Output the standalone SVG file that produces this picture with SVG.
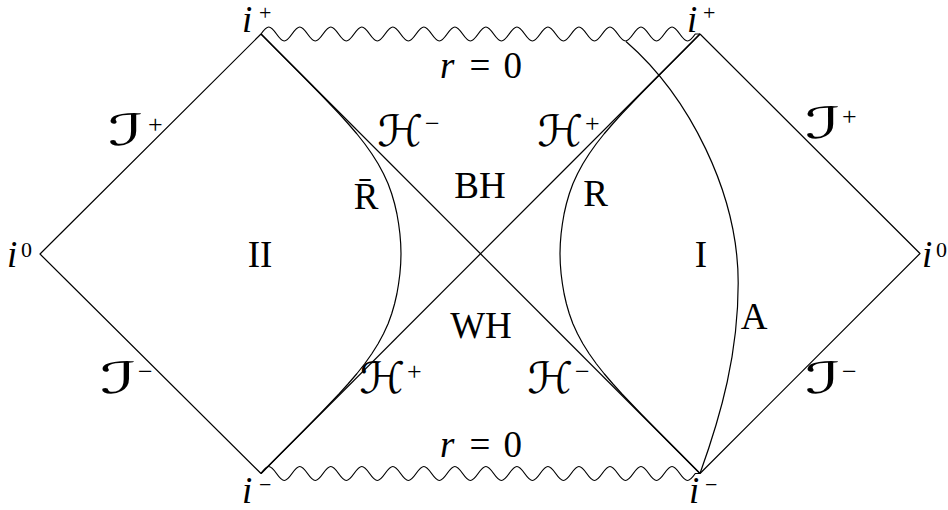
<svg xmlns="http://www.w3.org/2000/svg" width="948" height="510" viewBox="0 0 948 510">
<style>
.ln{fill:none;stroke:#000;stroke-width:1.2;stroke-linejoin:round}
.t{font-family:"Liberation Serif","Times New Roman",serif;font-size:37px;fill:#000}
.it{font-style:italic}
.sup{font-family:"Liberation Serif","Times New Roman",serif;font-size:22px;font-style:normal;fill:#000}
.sup2{font-family:"Liberation Serif","Times New Roman",serif;font-size:26px;fill:#000}
.scr{font-family:"DejaVu Serif","DejaVu Sans",serif;font-size:43px;font-style:italic;fill:#000}
</style>
<defs>
<path id="wave" d="M261,34 c6.58,-9.33 8.93,-9.33 15.51,0 s8.93,9.33 15.51,0 s8.93,-9.33 15.51,0 s8.93,9.33 15.51,0 s8.93,-9.33 15.51,0 s8.93,9.33 15.51,0 s8.93,-9.33 15.51,0 s8.93,9.33 15.51,0 s8.93,-9.33 15.51,0 s8.93,9.33 15.51,0 s8.93,-9.33 15.51,0 s8.93,9.33 15.51,0 s8.93,-9.33 15.51,0 s8.93,9.33 15.51,0 s8.93,-9.33 15.51,0 s8.93,9.33 15.51,0 s8.93,-9.33 15.51,0 s8.93,9.33 15.51,0 s8.93,-9.33 15.51,0 s8.93,9.33 15.51,0 s8.93,-9.33 15.51,0 s8.93,9.33 15.51,0 s8.93,-9.33 15.51,0 s8.93,9.33 15.51,0 s8.93,-9.33 15.51,0 s8.93,9.33 15.51,0 s8.93,-9.33 15.51,0 s8.93,9.33 15.51,0 L700,34"/>
</defs>
<g id="connectors">
<g id="boundaries">
<path class="ln" d="M261,34 L40,254 L261,473.5"/>
<path class="ln" d="M700,34 L920,253.5 L700,473.5"/>
</g>
<g id="singularities">
<use href="#wave" class="ln"/>
<use href="#wave" class="ln" transform="translate(0,439.5)"/>
</g>
<g id="horizons">
<path class="ln" d="M261,34 L700,473.5"/>
<path class="ln" d="M261,473.5 L700,34"/>
</g>
<g id="curve-R">
<polyline class="ln" points="700,34 680.5,53.75 660.6,73.75 640.9,93.75 621.8,113.75 612.8,123.75 604.2,133.75 596.3,143.75 589.2,153.75 582.9,163.75 577.5,173.75 572.9,183.75 569.3,193.75 566.4,203.75 564.1,213.75 562.4,223.75 561.1,233.75 560.3,243.75 560,253.75 560.3,263.75 561.1,273.75 562.4,283.75 564.1,293.75 566.4,303.75 569.3,313.75 572.9,323.75 577.5,333.75 582.9,343.75 589.2,353.75 596.3,363.75 604.2,373.75 612.8,383.75 621.8,393.75 640.9,413.75 660.6,433.75 680.5,453.75 700,473.5"/>
</g>
<g id="curve-Rbar">
<polyline class="ln" points="261,34 280.5,53.75 300.4,73.75 320.1,93.75 339.2,113.75 348.2,123.75 356.8,133.75 364.7,143.75 371.8,153.75 378.1,163.75 383.5,173.75 388.1,183.75 391.7,193.75 394.6,203.75 396.9,213.75 398.6,223.75 399.9,233.75 400.7,243.75 401,253.75 400.7,263.75 399.9,273.75 398.6,283.75 396.9,293.75 394.6,303.75 391.7,313.75 388.1,323.75 383.5,333.75 378.1,343.75 371.8,353.75 364.7,363.75 356.8,373.75 348.2,383.75 339.2,393.75 320.1,413.75 300.4,433.75 280.5,453.75 261,473.5"/>
</g>
<g id="curve-A">
<path class="ln" d="M626,41.5 C689.25,96.5 738.2,193 738.2,283 C738.2,353 721.6,413.5 700,473.5"/>
</g>
</g>
<g id="labels">
<g id="i-plus-left"><text class="t it" x="242" y="32">i</text><text class="sup" x="259" y="20">+</text></g>
<g id="i-plus-right"><text class="t it" x="687" y="32">i</text><text class="sup" x="703" y="20">+</text></g>
<g id="i-minus-left"><text class="t it" x="242" y="502.5">i</text><text class="sup" x="259" y="492">−</text></g>
<g id="i-minus-right"><text class="t it" x="689" y="502.5">i</text><text class="sup" x="705" y="492">−</text></g>
<g id="i-zero-left"><text class="t it" x="7" y="267">i</text><text class="sup" x="21" y="257">0</text></g>
<g id="i-zero-right"><text class="t it" x="922" y="267">i</text><text class="sup" x="936" y="257">0</text></g>
<g id="r0-top"><text class="t"><tspan class="it" x="440" y="78">r</tspan><tspan x="480" y="78" text-anchor="middle">=</tspan><tspan x="503.5" y="78">0</tspan></text></g>
<g id="r0-bottom"><text class="t"><tspan class="it" x="440" y="457">r</tspan><tspan x="480" y="457" text-anchor="middle">=</tspan><tspan x="503.5" y="457">0</tspan></text></g>
<g id="scri-plus-left"><text class="scr" x="108" y="145" textLength="36" lengthAdjust="spacingAndGlyphs">ℐ</text><text class="sup2" x="148" y="133">+</text></g>
<g id="scri-minus-left"><text class="scr" x="100" y="393" textLength="37" lengthAdjust="spacingAndGlyphs">ℐ</text><text class="sup2" x="138" y="379.5">−</text></g>
<g id="scri-plus-right"><text class="scr" x="805" y="138" textLength="36" lengthAdjust="spacingAndGlyphs">ℐ</text><text class="sup2" x="842" y="124.5">+</text></g>
<g id="scri-minus-right"><text class="scr" x="805" y="393" textLength="36" lengthAdjust="spacingAndGlyphs">ℐ</text><text class="sup2" x="842" y="379.5">−</text></g>
<g id="hor-minus-top"><text class="scr" x="377" y="146" textLength="46" lengthAdjust="spacingAndGlyphs">ℋ</text><text class="sup2" x="425" y="132">−</text></g>
<g id="hor-plus-top"><text class="scr" x="537" y="146" textLength="46" lengthAdjust="spacingAndGlyphs">ℋ</text><text class="sup2" x="585" y="132">+</text></g>
<g id="hor-plus-bottom"><text class="scr" x="359" y="393" textLength="46" lengthAdjust="spacingAndGlyphs">ℋ</text><text class="sup2" x="407" y="379.5">+</text></g>
<g id="hor-minus-bottom"><text class="scr" x="527" y="393" textLength="46" lengthAdjust="spacingAndGlyphs">ℋ</text><text class="sup2" x="575" y="379.5">−</text></g>
<g id="region-BH"><text class="t" x="480" y="197.5" text-anchor="middle">BH</text></g>
<g id="region-WH"><text class="t" x="481" y="337.5" text-anchor="middle">WH</text></g>
<g id="region-II"><text class="t" x="260" y="267" text-anchor="middle">II</text></g>
<g id="region-I"><text class="t" x="701" y="267" text-anchor="middle">I</text></g>
<g id="curve-Rbar-label"><text class="t" x="366" y="208.5" text-anchor="middle">R̄</text></g>
<g id="curve-R-label"><text class="t" x="595.5" y="206" text-anchor="middle">R</text></g>
<g id="curve-A-label"><text class="t" x="754" y="328.5" text-anchor="middle">A</text></g>
</g>
</svg>
